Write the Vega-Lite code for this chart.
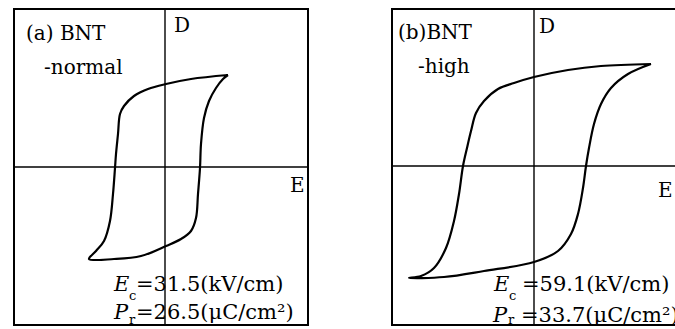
{
  "$schema": "https://vega.github.io/schema/vega-lite/v6.json",
  "background": "white",
  "padding": {"left": 12, "top": 8, "right": 0, "bottom": 0},
  "bounds": "flush",
  "spacing": 84,
  "config": {"view": {"stroke": null}, "text": {"font": "DejaVu Serif", "color": "black"}},
  "datasets": {
    "one": [{}],
    "loopA": [
      {"i": 0, "E": 63, "D": 92}, {"i": 1, "E": 26, "D": 88}, {"i": 2, "E": 1, "D": 83}, {"i": 3, "E": -17, "D": 78},
      {"i": 4, "E": -31, "D": 71}, {"i": 5, "E": -41, "D": 61}, {"i": 6, "E": -45, "D": 53}, {"i": 7, "E": -47, "D": 33},
      {"i": 8, "E": -49, "D": 13}, {"i": 9, "E": -50, "D": -1}, {"i": 10, "E": -52, "D": -27}, {"i": 11, "E": -55, "D": -54},
      {"i": 12, "E": -61, "D": -74}, {"i": 13, "E": -69, "D": -84}, {"i": 14, "E": -76, "D": -92}, {"i": 15, "E": -51, "D": -92},
      {"i": 16, "E": -24, "D": -89}, {"i": 17, "E": 1, "D": -79}, {"i": 18, "E": 16, "D": -72}, {"i": 19, "E": 26, "D": -64},
      {"i": 20, "E": 31, "D": -51}, {"i": 21, "E": 33, "D": -27}, {"i": 22, "E": 35, "D": -1}, {"i": 23, "E": 36, "D": 23},
      {"i": 24, "E": 39, "D": 49}, {"i": 25, "E": 44, "D": 66}, {"i": 26, "E": 51, "D": 79}, {"i": 27, "E": 58, "D": 88},
      {"i": 28, "E": 63, "D": 92}
    ],
    "loopB": [
      {"i": 0, "E": 117, "D": 102}, {"i": 1, "E": 67, "D": 100}, {"i": 2, "E": 34, "D": 96}, {"i": 3, "E": 0, "D": 89},
      {"i": 4, "E": -20, "D": 83}, {"i": 5, "E": -36, "D": 77}, {"i": 6, "E": -50, "D": 65}, {"i": 7, "E": -58, "D": 53},
      {"i": 8, "E": -63, "D": 35}, {"i": 9, "E": -67, "D": 18}, {"i": 10, "E": -71, "D": 0}, {"i": 11, "E": -75, "D": -28},
      {"i": 12, "E": -80, "D": -55}, {"i": 13, "E": -88, "D": -82}, {"i": 14, "E": -100, "D": -102}, {"i": 15, "E": -113, "D": -110},
      {"i": 16, "E": -125, "D": -112}, {"i": 17, "E": -90, "D": -111}, {"i": 18, "E": -50, "D": -105}, {"i": 19, "E": 0, "D": -96},
      {"i": 20, "E": 24, "D": -85}, {"i": 21, "E": 37, "D": -68}, {"i": 22, "E": 44, "D": -48}, {"i": 23, "E": 49, "D": -22},
      {"i": 24, "E": 52, "D": 0}, {"i": 25, "E": 55, "D": 18}, {"i": 26, "E": 60, "D": 42}, {"i": 27, "E": 67, "D": 62},
      {"i": 28, "E": 77, "D": 78}, {"i": 29, "E": 94, "D": 92}, {"i": 30, "E": 117, "D": 102}
    ],
    "textA": [
      {"kind": "title", "x": -139, "y": 127, "label": "(a) BNT"},
      {"kind": "title", "x": -121, "y": 93, "label": "-normal"},
      {"kind": "axis", "x": 9, "y": 135, "label": "D"},
      {"kind": "axis", "x": 125, "y": -25, "label": "E"},
      {"kind": "symbol", "x": -51, "y": -124, "label": "E"},
      {"kind": "symbol", "x": -51, "y": -152, "label": "P"},
      {"kind": "sub", "x": -36, "y": -133, "label": "c"},
      {"kind": "sub", "x": -36, "y": -157, "label": "r"},
      {"kind": "value", "x": -29, "y": -124, "label": "=31.5(kV/cm)"},
      {"kind": "value", "x": -29, "y": -152, "label": "=26.5(μC/cm²)"}
    ],
    "textB": [
      {"kind": "title", "x": -136, "y": 127, "label": "(b)BNT"},
      {"kind": "title", "x": -116, "y": 93, "label": "-high"},
      {"kind": "axis", "x": 5, "y": 133, "label": "D"},
      {"kind": "axis", "x": 124, "y": -31, "label": "E"},
      {"kind": "symbol", "x": -40, "y": -125, "label": "E"},
      {"kind": "symbol", "x": -41, "y": -156, "label": "P"},
      {"kind": "sub", "x": -25, "y": -134, "label": "c"},
      {"kind": "sub", "x": -26, "y": -158, "label": "r"},
      {"kind": "value", "x": -12, "y": -125, "label": "=59.1(kV/cm)"},
      {"kind": "value", "x": -13, "y": -156, "label": "=33.7(μC/cm²)"}
    ]
  },
  "hconcat": [
    {
      "width": 294,
      "height": 316,
      "layer": [
        {"data": {"name": "one"}, "mark": {"type": "rule", "color": "black", "strokeWidth": 2}, "encoding": {"x": {"datum": -151, "type": "quantitative", "scale": {"domain": [-151, 143], "nice": false, "zero": false}, "axis": null}, "y": {"datum": -158, "type": "quantitative", "scale": {"domain": [-158, 158], "nice": false, "zero": false}, "axis": null}, "y2": {"datum": 158}}},
        {"data": {"name": "one"}, "mark": {"type": "rule", "color": "black", "strokeWidth": 2}, "encoding": {"x": {"datum": 143, "type": "quantitative"}, "y": {"datum": -158, "type": "quantitative"}, "y2": {"datum": 158}}},
        {"data": {"name": "one"}, "mark": {"type": "rule", "color": "black", "strokeWidth": 2}, "encoding": {"x": {"datum": -152, "type": "quantitative"}, "x2": {"datum": 144}, "y": {"datum": 158, "type": "quantitative"}}},
        {"data": {"name": "one"}, "mark": {"type": "rule", "color": "black", "strokeWidth": 2}, "encoding": {"x": {"datum": -152, "type": "quantitative"}, "x2": {"datum": 144}, "y": {"datum": -158, "type": "quantitative"}}},
        {"data": {"name": "one"}, "mark": {"type": "rule", "color": "black", "strokeWidth": 1.4}, "encoding": {"x": {"datum": 0, "type": "quantitative"}, "y": {"datum": -158, "type": "quantitative"}, "y2": {"datum": 158}}},
        {"data": {"name": "one"}, "mark": {"type": "rule", "color": "black", "strokeWidth": 1.4}, "encoding": {"x": {"datum": -151, "type": "quantitative"}, "x2": {"datum": 143}, "y": {"datum": 0, "type": "quantitative"}}},
        {"data": {"name": "loopA"}, "mark": {"type": "line", "color": "black", "strokeWidth": 2.2, "interpolate": "catmull-rom"}, "encoding": {"x": {"field": "E", "type": "quantitative"}, "y": {"field": "D", "type": "quantitative"}, "order": {"field": "i"}}},
        {"data": {"name": "textA"}, "transform": [{"filter": "datum.kind === 'title' || datum.kind === 'axis'"}], "mark": {"type": "text", "align": "left", "baseline": "alphabetic", "fontSize": 20}, "encoding": {"x": {"field": "x", "type": "quantitative"}, "y": {"field": "y", "type": "quantitative"}, "text": {"field": "label"}}},
        {"data": {"name": "textA"}, "transform": [{"filter": "datum.kind === 'symbol'"}], "mark": {"type": "text", "align": "left", "baseline": "alphabetic", "fontSize": 21, "fontStyle": "italic"}, "encoding": {"x": {"field": "x", "type": "quantitative"}, "y": {"field": "y", "type": "quantitative"}, "text": {"field": "label"}}},
        {"data": {"name": "textA"}, "transform": [{"filter": "datum.kind === 'sub'"}], "mark": {"type": "text", "align": "left", "baseline": "alphabetic", "fontSize": 13}, "encoding": {"x": {"field": "x", "type": "quantitative"}, "y": {"field": "y", "type": "quantitative"}, "text": {"field": "label"}}},
        {"data": {"name": "textA"}, "transform": [{"filter": "datum.kind === 'value'"}], "mark": {"type": "text", "align": "left", "baseline": "alphabetic", "fontSize": 21}, "encoding": {"x": {"field": "x", "type": "quantitative"}, "y": {"field": "y", "type": "quantitative"}, "text": {"field": "label"}}}
      ]
    },
    {
      "width": 284,
      "height": 316,
      "layer": [
        {"data": {"name": "one"}, "mark": {"type": "rule", "color": "black", "strokeWidth": 2}, "encoding": {"x": {"datum": -142, "type": "quantitative", "scale": {"domain": [-142, 142], "nice": false, "zero": false}, "axis": null}, "y": {"datum": -159, "type": "quantitative", "scale": {"domain": [-159, 157], "nice": false, "zero": false}, "axis": null}, "y2": {"datum": 157}}},
        {"data": {"name": "one"}, "mark": {"type": "rule", "color": "black", "strokeWidth": 2}, "encoding": {"x": {"datum": -143, "type": "quantitative"}, "x2": {"datum": 142}, "y": {"datum": 157, "type": "quantitative"}}},
        {"data": {"name": "one"}, "mark": {"type": "rule", "color": "black", "strokeWidth": 2}, "encoding": {"x": {"datum": -143, "type": "quantitative"}, "x2": {"datum": 142}, "y": {"datum": -159, "type": "quantitative"}}},
        {"data": {"name": "one"}, "mark": {"type": "rule", "color": "black", "strokeWidth": 1.4}, "encoding": {"x": {"datum": 0, "type": "quantitative"}, "y": {"datum": -159, "type": "quantitative"}, "y2": {"datum": 157}}},
        {"data": {"name": "one"}, "mark": {"type": "rule", "color": "black", "strokeWidth": 1.4}, "encoding": {"x": {"datum": -142, "type": "quantitative"}, "x2": {"datum": 142}, "y": {"datum": 0, "type": "quantitative"}}},
        {"data": {"name": "loopB"}, "mark": {"type": "line", "color": "black", "strokeWidth": 2.2, "interpolate": "catmull-rom"}, "encoding": {"x": {"field": "E", "type": "quantitative"}, "y": {"field": "D", "type": "quantitative"}, "order": {"field": "i"}}},
        {"data": {"name": "textB"}, "transform": [{"filter": "datum.kind === 'title' || datum.kind === 'axis'"}], "mark": {"type": "text", "align": "left", "baseline": "alphabetic", "fontSize": 20, "clip": true}, "encoding": {"x": {"field": "x", "type": "quantitative"}, "y": {"field": "y", "type": "quantitative"}, "text": {"field": "label"}}},
        {"data": {"name": "textB"}, "transform": [{"filter": "datum.kind === 'symbol'"}], "mark": {"type": "text", "align": "left", "baseline": "alphabetic", "fontSize": 21, "fontStyle": "italic", "clip": true}, "encoding": {"x": {"field": "x", "type": "quantitative"}, "y": {"field": "y", "type": "quantitative"}, "text": {"field": "label"}}},
        {"data": {"name": "textB"}, "transform": [{"filter": "datum.kind === 'sub'"}], "mark": {"type": "text", "align": "left", "baseline": "alphabetic", "fontSize": 13, "clip": true}, "encoding": {"x": {"field": "x", "type": "quantitative"}, "y": {"field": "y", "type": "quantitative"}, "text": {"field": "label"}}},
        {"data": {"name": "textB"}, "transform": [{"filter": "datum.kind === 'value'"}], "mark": {"type": "text", "align": "left", "baseline": "alphabetic", "fontSize": 21, "clip": true}, "encoding": {"x": {"field": "x", "type": "quantitative"}, "y": {"field": "y", "type": "quantitative"}, "text": {"field": "label"}}}
      ]
    }
  ]
}
